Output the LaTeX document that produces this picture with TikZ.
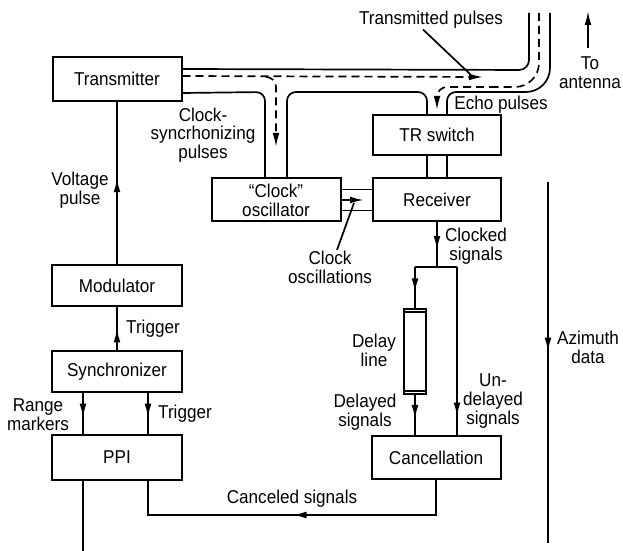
\documentclass[tikz,border=0pt]{standalone}
\usepackage{fontspec}
\setmainfont{Liberation Sans}[FakeStretch=0.92]
\usetikzlibrary{arrows.meta,decorations.markings}
\begin{document}
\begin{tikzpicture}[x=0.5pt,y=-0.5pt, line width=0.85pt,
  >={Latex[length=7pt,width=3.4pt]},
  every node/.style={font=\fontsize{9.3}{9.4}\selectfont},
  box/.style={draw, line width=1pt, inner sep=0pt, align=center},
  lbl/.style={align=center, inner sep=0pt},
  dsh/.style={dash pattern=on 4pt off 2.5pt},
  midarr/.style={postaction={decorate}, decoration={markings, mark=at position #1 with {\arrow{>}}}},
]
\useasboundingbox (0,0) rectangle (623,551);

% boxes
\node[box, minimum width=64.5pt, minimum height=22pt] (tx) at (117,79) {Transmitter};
\node[box, minimum width=65pt, minimum height=20.5pt] (mod) at (117,285.5) {Modulator};
\node[box, minimum width=65pt, minimum height=20.5pt] (syn) at (117,371.5) {Synchronizer};
\node[box, minimum width=65pt, minimum height=22.5pt] (ppi) at (117,457.5) {PPI};
\node[box, minimum width=64.5pt, minimum height=21.5pt] (clk) at (276,200) {“Clock”\\oscillator};
\node[box, minimum width=64pt, minimum height=20pt] (tr) at (437,135) {TR switch};
\node[box, minimum width=64pt, minimum height=21.5pt] (rx) at (437,200) {Receiver};
\node[box, minimum width=64.5pt, minimum height=21.5pt] (can) at (436,457.5) {Cancellation};
\node[box, minimum width=11pt, minimum height=42.5pt] (dl) at (415,351.5) {};
\draw ([yshift=-2pt]dl.north west) -- ([yshift=-2pt]dl.north east);
\draw ([yshift=2pt]dl.south west) -- ([yshift=2pt]dl.south east);

% free ends
\coordinate (wgA) at (529,13);
\coordinate (wgB) at (550,13);
\coordinate (wgC) at (539,13);
\coordinate (tpa) at (471,75);
\coordinate (brA) at (266,77);
\coordinate (brB) at (276,147);
\coordinate (echoA) at (437,110);
\coordinate (cosca) at (354,203);
\coordinate (split) at (437,267);
\coordinate (sl) at (415,267);
\coordinate (sr) at (457,267);
\coordinate (ppiend) at (83,551);
\coordinate (ant1) at (588,48);
\coordinate (ant2) at (588,11);
\coordinate (az1) at (548,182);
\coordinate (az2) at (548,543);

% waveguide outline
\draw[rounded corners=5pt] ([yshift=-6.5pt]tx.north east) -- (529,70) -- (wgA);
\draw[rounded corners=4.5pt] ([yshift=4.5pt]tx.south east) -- (265,92) -- ([xshift=-5.5pt]clk.north);
\draw[rounded corners=4.5pt] ([xshift=5.5pt]clk.north) -- (287,92) -- (427,92) -- ([xshift=-5pt]tr.north);
\draw[rounded corners=4.5pt] ([xshift=5pt]tr.north) -- (447,92) -- (505,92);
\draw[rounded corners=12pt] (500,92) -- (550,92) -- (wgB);

% dashed signal paths
\draw[dsh, ->] ([yshift=-10pt]tx.north east) -- (483,77);
\draw[dsh, rounded corners=5pt, ->] (brA) -- (276,77) -- (brB);
\draw[dsh, rounded corners=12pt] (wgC) -- (539,87) -- (495,87);
\draw[dsh, rounded corners=5pt, ->] (497,87) -- (437,87) -- (echoA);

% clock oscillator to receiver
\draw ([yshift=5.25pt]clk.east) -- ([yshift=5.25pt]rx.west);
\draw ([yshift=-5.25pt]clk.east) -- ([yshift=-5.25pt]rx.west);
\draw[dsh, ->] (clk.east) -- ([xshift=-4pt]rx.west);

% TR switch to receiver
\draw ([xshift=-5pt]tr.south) -- ([xshift=-5pt]rx.north);
\draw ([xshift=5pt]tr.south) -- ([xshift=5pt]rx.north);

% receiver outputs
\draw[midarr=0.62] (rx.south) -- (split);
\draw (sl) -- (sr);
\draw[midarr=0.62] (sl) -- (dl.north);
\draw[midarr=0.6] (dl.south) -- ([xshift=-10.5pt]can.north);
\draw[midarr=0.89] (sr) -- ([xshift=10.5pt]can.north);
\draw[midarr=0.5] (can.south) -- ++(0,35) -| ([xshift=15.5pt]ppi.south);

% left column
\draw[midarr=0.53] (mod.north) -- (tx.south);
\draw[midarr=0.5] (syn.north) -- (mod.south);
\draw[midarr=0.6] ([xshift=-17pt]syn.south) -- ([xshift=-17pt]ppi.north);
\draw[midarr=0.6] ([xshift=15.5pt]syn.south) -- ([xshift=15.5pt]ppi.north);
\draw ([xshift=-17pt]ppi.south) -- (ppiend);

% antenna and azimuth
\draw[->] (ant1) -- (ant2);
\draw[midarr=0.47] (az1) -- (az2);

% labels
\node[lbl] (tpl) at (431,20) {Transmitted pulses};
\draw ([xshift=-4pt]tpl.south) -- (tpa);
\node[lbl] (ant) at (590,73) {To\\antenna};
\node[lbl] (echo) at (501,105) {Echo pulses};
\node[lbl] (csp) at (203,135) {Clock-\\syncrhonizing\\pulses};
\node[lbl] (vp) at (80,190) {Voltage\\pulse};
\node[lbl] (trg1) at (153,329) {Trigger};
\node[lbl] (rm) at (38,415) {Range\\markers};
\node[lbl] (trg2) at (185,414) {Trigger};
\node[lbl] (cosc) at (330,267) {Clock\\oscillations};
\draw ([xshift=3.5pt]cosc.north) -- (cosca);
\node[lbl] (cks) at (476,246) {Clocked\\signals};
\node[lbl] (dll) at (374,350) {Delay\\line};
\node[lbl] (dls) at (365,412) {Delayed\\signals};
\node[lbl] (uds) at (493,401) {Un-\\delayed\\signals};
\node[lbl] (azd) at (588,347) {Azimuth\\data};
\node[lbl] (cns) at (292,499) {Canceled signals};
\end{tikzpicture}
\end{document}
